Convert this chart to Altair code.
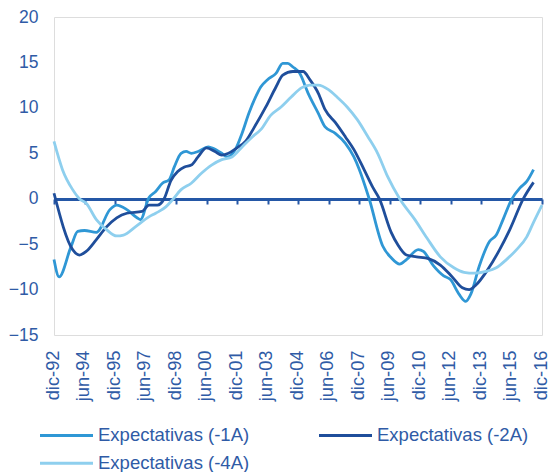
import altair as alt
import pandas as pd

series_names = ["Expectativas (-1A)", "Expectativas (-2A)", "Expectativas (-4A)"]
series_colors = ["#2F97D5", "#1F4E9B", "#8ECFEE"]

x_labels = ["dic-92", "jun-94", "dic-95", "jun-97", "dic-98", "jun-00", "dic-01",
            "jun-03", "dic-04", "jun-06", "dic-07", "jun-09", "dic-10", "jun-12",
            "dic-13", "jun-15", "dic-16"]
y_ticks = [-15, -10, -5, 0, 5, 10, 15, 20]

exp_1a = [
    ("1992-12", -6.7), ("1993-03", -8.6), ("1993-10", -5.3), ("1994-02", -3.6),
    ("1994-06", -3.5), ("1995-01", -3.7), ("1995-09", -1.2), ("1996-01", -0.7),
    ("1996-07", -1.2), ("1997-01", -2.1), ("1997-03", -2.3), ("1997-08", 0.1),
    ("1997-12", 0.8), ("1998-04", 1.7), ("1998-08", 2.1), ("1998-11", 3.5),
    ("1999-03", 5.0), ("1999-06", 5.2), ("1999-09", 5.0), ("2000-01", 5.2),
    ("2000-07", 5.7), ("2000-09", 5.6), ("2001-03", 5.0), ("2001-06", 4.6),
    ("2001-11", 5.4), ("2002-03", 7.2), ("2002-07", 9.4), ("2002-11", 11.2),
    ("2003-02", 12.3), ("2003-06", 13.1), ("2003-11", 13.8), ("2004-03", 14.9),
    ("2004-06", 14.9), ("2004-09", 14.5), ("2005-01", 13.8), ("2005-06", 11.6),
    ("2005-12", 9.4), ("2006-04", 7.9), ("2006-10", 7.2), ("2007-04", 6.1),
    ("2007-09", 4.6), ("2007-12", 3.3), ("2008-06", 0.0), ("2009-02", -5.2),
    ("2009-07", -6.5), ("2009-12", -7.2), ("2010-04", -6.7), ("2010-11", -5.6),
    ("2011-02", -5.8), ("2011-08", -7.4), ("2012-02", -8.5), ("2012-06", -8.9),
    ("2012-11", -10.5), ("2013-03", -11.3), ("2013-06", -10.5), ("2013-11", -7.4),
    ("2014-05", -4.7), ("2014-09", -4.0), ("2015-01", -2.3), ("2015-06", -0.1),
    ("2015-11", 1.2), ("2016-03", 1.9), ("2016-07", 3.2),
]

exp_2a = [
    ("1992-12", 0.6), ("1993-11", -5.6), ("1994-03", -6.2), ("1994-07", -5.8),
    ("1995-01", -4.5), ("1995-07", -3.1), ("1996-01", -2.1), ("1996-07", -1.6),
    ("1997-04", -1.4), ("1997-08", -0.7), ("1998-01", -0.7), ("1998-05", 0.0),
    ("1998-09", 2.0), ("1999-01", 3.0), ("1999-05", 3.5), ("1999-09", 3.7),
    ("2000-01", 4.6), ("2000-06", 5.6), ("2000-11", 5.2), ("2001-03", 4.8),
    ("2001-07", 5.0), ("2001-12", 5.6), ("2002-05", 6.3), ("2002-10", 7.8),
    ("2003-05", 10.1), ("2003-11", 12.3), ("2004-03", 13.6), ("2004-09", 14.0),
    ("2005-03", 14.0), ("2005-07", 13.1), ("2005-12", 11.6), ("2006-04", 9.8),
    ("2006-10", 8.4), ("2007-04", 6.8), ("2007-09", 5.4), ("2008-03", 3.2),
    ("2008-08", 1.3), ("2008-12", 0.0), ("2009-07", -3.7), ("2009-11", -5.1),
    ("2010-04", -6.2), ("2010-10", -6.4), ("2011-05", -6.6), ("2011-12", -7.3),
    ("2012-07", -8.6), ("2013-01", -9.8), ("2013-05", -10.0), ("2013-09", -9.5),
    ("2014-04", -7.8), ("2014-11", -5.6), ("2015-05", -3.4), ("2016-01", 0.0),
    ("2016-07", 1.8),
]

exp_4a = [
    ("1992-12", 6.3), ("1993-05", 3.2), ("1993-11", 1.0), ("1994-03", 0.0),
    ("1994-07", -0.5), ("1995-01", -2.3), ("1995-07", -3.4), ("1996-01", -4.1),
    ("1996-05", -4.0), ("1996-12", -3.1), ("1997-08", -2.0), ("1997-12", -1.6),
    ("1998-06", -0.9), ("1998-10", -0.1), ("1999-03", 1.0), ("1999-09", 1.7),
    ("2000-03", 2.8), ("2000-09", 3.7), ("2001-03", 4.3), ("2001-09", 4.6),
    ("2002-03", 5.7), ("2002-09", 6.8), ("2003-02", 7.6), ("2003-08", 9.2),
    ("2004-02", 10.1), ("2004-08", 11.2), ("2005-02", 12.2), ("2005-07", 12.5),
    ("2005-12", 12.5), ("2006-06", 12.0), ("2006-11", 11.2), ("2007-05", 10.1),
    ("2007-11", 8.7), ("2008-05", 6.9), ("2008-11", 5.0), ("2009-05", 2.4),
    ("2009-12", 0.0), ("2010-09", -2.3), ("2011-04", -4.3), ("2011-12", -6.4),
    ("2012-08", -7.6), ("2013-02", -8.1), ("2013-08", -8.2), ("2014-03", -8.0),
    ("2014-09", -7.6), ("2015-03", -6.7), ("2015-09", -5.6), ("2016-03", -4.2),
    ("2016-07", -2.6), ("2016-12", -0.7),
]


def month_index(d):
    y, m = d.split("-")
    return (int(y) - 1992) * 12 + int(m) - 12


rows = []
for name, pts in zip(series_names, [exp_1a, exp_2a, exp_4a]):
    for i, (d, v) in enumerate(pts):
        rows.append({"serie": name, "mes": month_index(d), "valor": v, "orden": i})
df = pd.DataFrame(rows)

text_color = "#2F5BA6"
axis_color = "#2457A6"
font = "Liberation Sans"

label_array = "[" + ",".join("'" + s + "'" for s in x_labels) + "]"

lines = alt.Chart(df).mark_line(strokeWidth=2.8, interpolate="monotone").encode(
    x=alt.X("mes:Q",
            scale=alt.Scale(domain=[0, 288], nice=False, zero=False),
            axis=alt.Axis(values=list(range(0, 289, 18)),
                          labelExpr=label_array + "[round(datum.value/18)]",
                          title=None, grid=False, offset=-136,
                          domainColor=axis_color, domainWidth=3,
                          tickColor=axis_color, tickWidth=2, tickSize=5,
                          labelAngle=270, labelAlign="right", labelBaseline="middle",
                          labelPadding=146, labelOffset=-1, labelFont=font,
                          labelFontSize=18.3, labelColor=text_color,
                          labelOverlap=False)),
    y=alt.Y("valor:Q",
            scale=alt.Scale(domain=[-15, 20], nice=False, zero=False),
            axis=alt.Axis(values=y_ticks, title=None, grid=False, domain=False,
                          ticks=False, tickSize=0, labelPadding=16, labelFont=font,
                          labelFontSize=17.5, labelColor=text_color)),
    color=alt.Color("serie:N",
                    scale=alt.Scale(domain=series_names, range=series_colors),
                    legend=alt.Legend(title=None, orient="none", legendX=3.25, legendY=409,
                                      direction="horizontal", columns=2, columnPadding=63,
                                      rowPadding=9, symbolType="M-5.3,0H5.3", symbolSize=100,
                                      symbolStrokeWidth=3, labelFont=font, labelFontSize=18.5,
                                      labelColor=text_color, labelLimit=0, labelOffset=22.25)),
    order="orden:Q",
    detail="serie:N",
)

chart = lines.properties(
    width=488, height=318,
    padding={"left": 46, "top": 9, "right": 7, "bottom": 137},
    autosize=alt.AutoSizeParams(type="none"),
).configure_view(stroke=None).configure(background="white")

chart.save("out.html", embed_options={"renderer": "svg", "actions": False})
